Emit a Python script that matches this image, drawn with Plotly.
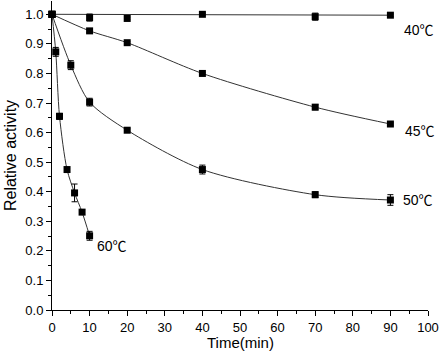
import plotly.graph_objects as go

# Data
t40 = [0, 10, 20, 40, 70, 90]
a40 = [1.0, 0.989, 0.986, 1.0, 0.992, 0.997]
e40 = [0.004, 0.012, 0.004, 0.004, 0.012, 0.004]
fit40_x = [0, 90]
fit40_y = [1.0, 0.997]

t45 = [0, 10, 20, 40, 70, 90]
a45 = [1.0, 0.944, 0.904, 0.80, 0.686, 0.629]
e45 = [0.004, 0.005, 0.004, 0.004, 0.009, 0.004]

t50 = [0, 5, 10, 20, 40, 70, 90]
a50 = [1.0, 0.828, 0.703, 0.608, 0.475, 0.39, 0.372]
e50 = [0.004, 0.015, 0.013, 0.005, 0.015, 0.01, 0.018]

t60 = [0, 1, 2, 4, 6, 8, 10]
a60 = [1.0, 0.873, 0.655, 0.475, 0.396, 0.331, 0.251]
e60 = [0.004, 0.015, 0.01, 0.005, 0.03, 0.008, 0.015]

labels = ["40℃", "45℃", "50℃", "60℃"]
label_x = [97.5, 98.0, 97.3, 15.9]
label_y = [0.946, 0.605, 0.372, 0.215]

x_ticks = [0, 10, 20, 30, 40, 50, 60, 70, 80, 90, 100]
y_ticks = [0.0, 0.1, 0.2, 0.3, 0.4, 0.5, 0.6, 0.7, 0.8, 0.9, 1.0]

FONT = "Liberation Sans, Arial, Noto Sans CJK SC"

fig = go.Figure()
line_col = "#333333"

# fit lines
fig.add_trace(go.Scatter(x=fit40_x, y=fit40_y, mode="lines",
                         line=dict(color=line_col, width=1), showlegend=False))
for xs, ys in [(t45, a45), (t50, a50), (t60, a60)]:
    fig.add_trace(go.Scatter(x=xs, y=ys, mode="lines",
                             line=dict(color=line_col, width=1, shape="spline", smoothing=0.8),
                             showlegend=False))

# markers with error bars
for xs, ys, es in [(t40, a40, e40), (t45, a45, e45), (t50, a50, e50), (t60, a60, e60)]:
    fig.add_trace(go.Scatter(x=xs, y=ys, mode="markers",
                             marker=dict(symbol="square", size=7, color="black"),
                             error_y=dict(type="data", array=es, visible=True,
                                          color="black", thickness=1, width=3),
                             showlegend=False, cliponaxis=False))

for lab, lx, ly in zip(labels, label_x, label_y):
    fig.add_annotation(x=lx, y=ly, text=lab, showarrow=False,
                       font=dict(family=FONT, size=14, color="black"))

# x axis title placed below the tick labels
fig.add_annotation(x=0.5, y=0, xref="paper", yref="paper", yshift=-32,
                   xanchor="center", yanchor="middle", text="Time(min)", showarrow=False,
                   font=dict(family=FONT, size=15, color="black"))

axis_common = dict(showgrid=False, zeroline=False, showline=True, linecolor="black",
                   linewidth=1, ticks="outside", ticklen=5, tickcolor="black",
                   tickfont=dict(family=FONT, size=13, color="black"),
                   mirror=False, automargin=False)

fig.update_xaxes(range=[0, 100], tickvals=x_ticks, ticktext=[str(v) for v in x_ticks],
                 minor=dict(ticks="outside", ticklen=3, dtick=5, tickcolor="black"),
                 **axis_common)
fig.update_yaxes(range=[0, 1.045], tickvals=y_ticks, ticktext=[f"{v:.1f}" for v in y_ticks],
                 minor=dict(ticks="outside", ticklen=3, dtick=0.05, tickcolor="black"),
                 title=dict(text="Relative activity", standoff=4,
                            font=dict(family=FONT, size=16, color="black")),
                 **axis_common)

fig.update_layout(width=444, height=351, margin=dict(l=52, r=16, t=1, b=41),
                  plot_bgcolor="white", paper_bgcolor="white")

fig.write_html("out.html", config={"displayModeBar": False},
               post_script="document.body.style.margin='0';document.body.style.overflow='hidden';")
